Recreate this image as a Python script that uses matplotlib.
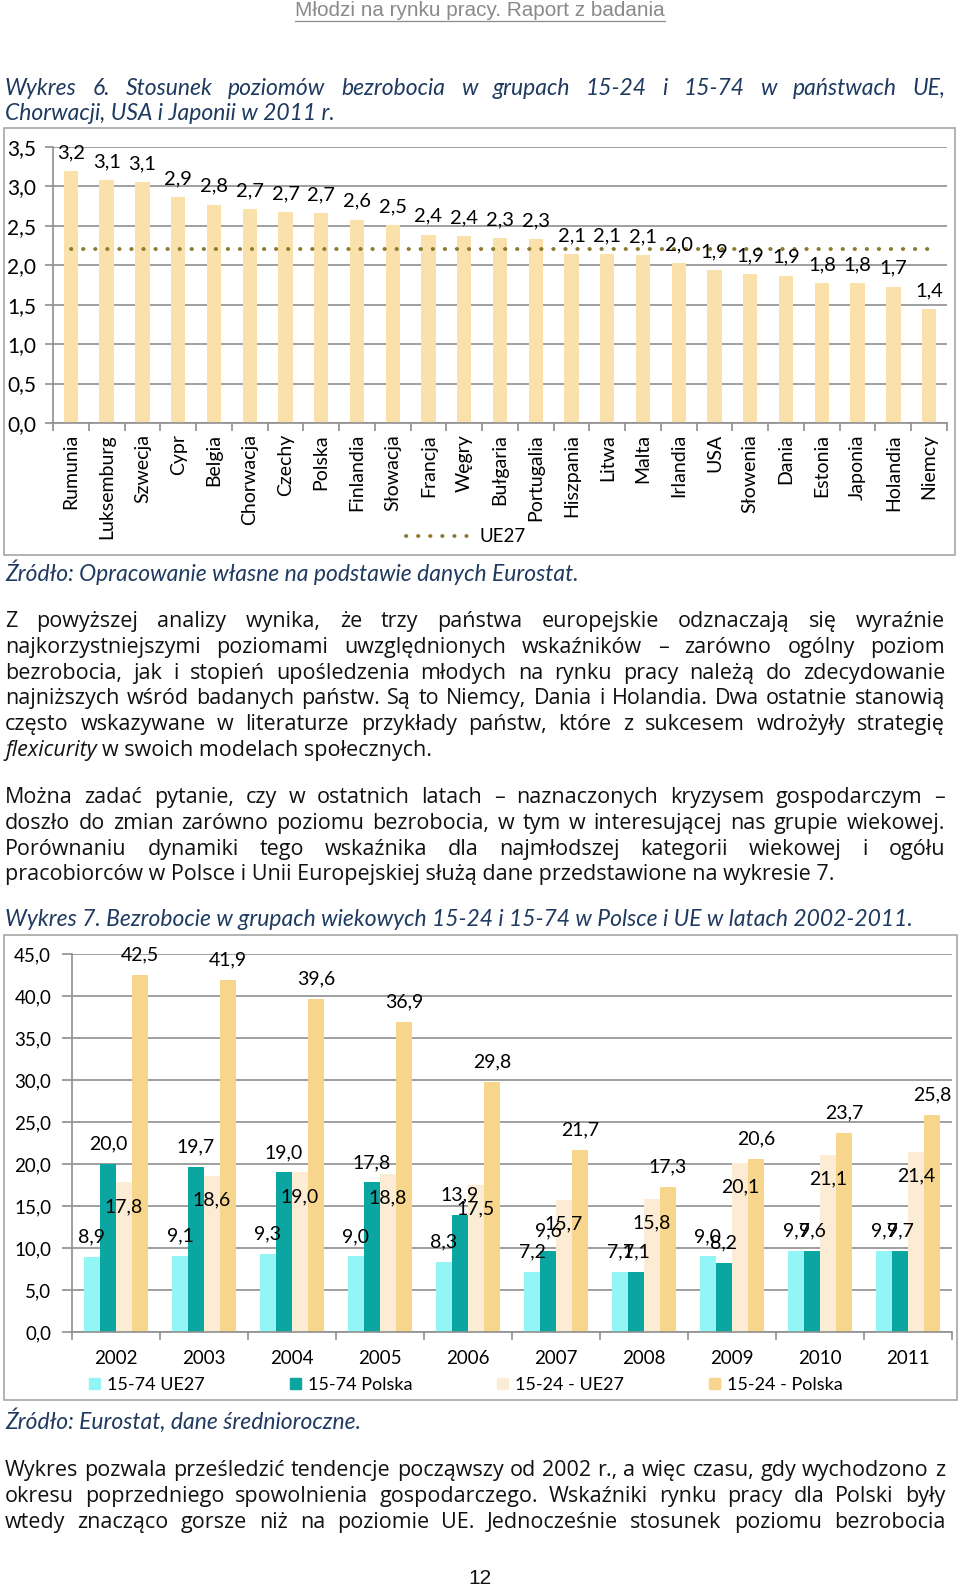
import matplotlib
matplotlib.use('Agg')
import matplotlib.pyplot as plt
from matplotlib.patches import Rectangle, Patch
from matplotlib.lines import Line2D
import numpy as np

W, H = 960, 1588

# --- Wykres 6 data ---
countries = ['Rumunia', 'Luksemburg', 'Szwecja', 'Cypr', 'Belgia', 'Chorwacja',
             'Czechy', 'Polska', 'Finlandia', 'Słowacja', 'Francja', 'Węgry',
             'Bułgaria', 'Portugalia', 'Hiszpania', 'Litwa', 'Malta', 'Irlandia',
             'USA', 'Słowenia', 'Dania', 'Estonia', 'Japonia', 'Holandia', 'Niemcy']
ratio = [3.20, 3.08, 3.06, 2.87, 2.77, 2.71, 2.68, 2.66, 2.58, 2.51, 2.39, 2.37,
         2.34, 2.33, 2.14, 2.14, 2.13, 2.03, 1.94, 1.89, 1.87, 1.78, 1.78, 1.73, 1.44]
ue27_ratio = 2.21

# --- Wykres 7 data ---
years = ['2002', '2003', '2004', '2005', '2006', '2007', '2008', '2009', '2010', '2011']
ue_15_74 = [8.9, 9.1, 9.3, 9.0, 8.3, 7.2, 7.1, 9.0, 9.7, 9.7]
pl_15_74 = [20.0, 19.7, 19.0, 17.8, 13.9, 9.6, 7.1, 8.2, 9.6, 9.7]
ue_15_24 = [17.8, 18.6, 19.0, 18.8, 17.5, 15.7, 15.8, 20.1, 21.1, 21.4]
pl_15_24 = [42.5, 41.9, 39.6, 36.9, 29.8, 21.7, 17.3, 20.6, 23.7, 25.8]
series_names = ['15-74 UE27', '15-74 Polska', '15-24 - UE27', '15-24 - Polska']

plt.rcParams['font.family'] = ['Lato', 'DejaVu Sans']

TITLE_C = '#1f3a60'
GRID_C = '#8f8f8f'
NARROW = ['Liberation Sans Narrow', 'Liberation Sans', 'DejaVu Sans']
BODY = ['Open Sans', 'Lato', 'DejaVu Sans']

fig = plt.figure(figsize=(W / 100, H / 100), dpi=100)
renderer = fig.canvas.get_renderer()


def box(x0, y0, x1, y1):
    return [x0 / W, 1 - y1 / H, (x1 - x0) / W, (y1 - y0) / H]


def fx(x):
    return x / W


def fy(y):
    return 1 - y / H


def fit_size(s, width, size=14, **kw):
    t = fig.text(0, 0, s, fontsize=size, **kw)
    w = t.get_window_extent(renderer).width
    t.remove()
    return size * width / w


def justify(x0, x1, y, s, **kw):
    words = s.split(' ')
    objs = [fig.text(0, fy(y), w, va='baseline', **kw) for w in words]
    widths = [t.get_window_extent(renderer).width for t in objs]
    gap = (x1 - x0 - sum(widths)) / (len(words) - 1)
    x = x0
    for t, w in zip(objs, widths):
        t.set_x(fx(x))
        x += w + gap


def left(x, y, s, **kw):
    return fig.text(fx(x), fy(y), s, va='baseline', **kw)


def fmt(v):
    return f'{v:.1f}'.replace('.', ',')


# font sizes matched to the widths of the page's lines
title_size = fit_size('Wykres 7. Bezrobocie w grupach wiekowych 15-24 i 15-74 w Polsce i UE w latach 2002-2011.',
                      913, style='italic')
body_size = min(fit_size('najniższych wśród badanych państw. Są to Niemcy, Dania i Holandia. Dwa ostatnie stanowią',
                         922, family=BODY), 16)
hdr_size = fit_size('Młodzi na rynku pracy. Raport z badania', 373, family=NARROW)

# header
hdr = fig.text(fx(480), fy(10), 'Młodzi na rynku pracy. Raport z badania', ha='center',
               va='center', fontsize=hdr_size, color='#8a8a8a', family=NARROW)
bb = hdr.get_window_extent(renderer)
fig.add_artist(Line2D([fx(bb.x0), fx(bb.x1)], [fy(21), fy(21)], color='#8a8a8a', lw=0.9))

# title 6
tkw = dict(fontsize=title_size, style='italic', color=TITLE_C)
justify(5, 945, 95, 'Wykres 6. Stosunek poziomów bezrobocia w grupach 15-24 i 15-74 w państwach UE,', **tkw)
left(5, 120, 'Chorwacji, USA i Japonii w 2011 r.', **tkw)

# chart 6 frame
fig.add_artist(Rectangle((fx(4), fy(555)), 951 / W, (555 - 128) / H, transform=fig.transFigure,
                         fill=False, ec='#a6a6a6', lw=1.2))

ax1 = fig.add_axes(box(53, 147, 947, 423))
x = np.arange(len(countries))
ax1.bar(x, ratio, width=0.4, color='#fae0aa', zorder=2)
ax1.plot(x, [ue27_ratio] * len(x), color='#8c7a2e', lw=2.8, linestyle=(0, (0.1, 3.0)),
         dash_capstyle='round', label='UE27', zorder=3)
for xi, v in zip(x, ratio):
    ax1.annotate(fmt(v), (xi, v), xytext=(0, 7), textcoords='offset points',
                 ha='center', va='bottom', fontsize=14.5, zorder=4)
ax1.set_xlim(-0.5, len(countries) - 0.5)
ax1.set_ylim(0, 3.5)
yt = np.arange(0, 3.51, 0.5)
ax1.set_yticks(yt)
ax1.set_yticklabels([fmt(v) for v in yt], fontsize=15)
ax1.set_xticks(np.arange(-0.5, len(countries), 1.0))
ax1.set_xticklabels([])
ax1.set_xticks(x, minor=True)
ax1.set_xticklabels(countries, minor=True, rotation=90, fontsize=14)
ax1.tick_params(axis='x', which='major', length=6, color=GRID_C, width=1.2)
ax1.tick_params(axis='x', which='minor', length=0, pad=8)
ax1.tick_params(axis='y', length=6, color=GRID_C, width=1.2, pad=6)
ax1.grid(axis='y', color=GRID_C, lw=1.2)
ax1.set_axisbelow(True)
for s in ['top', 'right']:
    ax1.spines[s].set_visible(False)
for s in ['left', 'bottom']:
    ax1.spines[s].set_color(GRID_C)
    ax1.spines[s].set_linewidth(1.2)
ax1.legend(loc='center', bbox_to_anchor=(fx(466), fy(537)), bbox_transform=fig.transFigure,
           frameon=False, fontsize=13.5, handlelength=3.4, handletextpad=0.5)

# source 6
left(5, 581, 'Źródło: Opracowanie własne na podstawie danych Eurostat.', **tkw)

# paragraph 1
bkw = dict(fontsize=body_size, color='#111111', family=BODY)
p1 = ['Z powyższej analizy wynika, że trzy państwa europejskie odznaczają się wyraźnie',
      'najkorzystniejszymi poziomami uwzględnionych wskaźników – zarówno ogólny poziom',
      'bezrobocia, jak i stopień upośledzenia młodych na rynku pracy należą do zdecydowanie',
      'najniższych wśród badanych państw. Są to Niemcy, Dania i Holandia. Dwa ostatnie stanowią',
      'często wskazywane w literaturze przykłady państw, które z sukcesem wdrożyły strategię']
for i, s in enumerate(p1):
    justify(5, 945, 627 + i * 25.8, s, **bkw)
it = left(5, 627 + 5 * 25.8, 'flexicurity', style='italic', **bkw)
wb = it.get_window_extent(renderer)
left(wb.x1 + 5, 627 + 5 * 25.8, 'w swoich modelach społecznych.', **bkw)

# paragraph 2
p2 = ['Można zadać pytanie, czy w ostatnich latach – naznaczonych kryzysem gospodarczym –',
      'doszło do zmian zarówno poziomu bezrobocia, w tym w interesującej nas grupie wiekowej.',
      'Porównaniu dynamiki tego wskaźnika dla najmłodszej kategorii wiekowej i ogółu']
for i, s in enumerate(p2):
    justify(5, 945, 803 + i * 25.8, s, **bkw)
left(5, 803 + 3 * 25.8, 'pracobiorców w Polsce i Unii Europejskiej służą dane przedstawione na wykresie 7.', **bkw)

# title 7
left(5, 926, 'Wykres 7. Bezrobocie w grupach wiekowych 15-24 i 15-74 w Polsce i UE w latach 2002-2011.', **tkw)

# chart 7 frame
fig.add_artist(Rectangle((fx(4), fy(1400)), 953 / W, (1400 - 935) / H, transform=fig.transFigure,
                         fill=False, ec='#a6a6a6', lw=1.2))

ax2 = fig.add_axes(box(72, 954, 952, 1332))
xx = np.arange(len(years))
bw = 0.182
colors = ['#93f6f6', '#0ba6a1', '#fcecd4', '#f8d58c']
for i, (vals, col, lab) in enumerate(zip([ue_15_74, pl_15_74, ue_15_24, pl_15_24], colors, series_names)):
    pos = xx + (i - 1.5) * bw
    ax2.bar(pos, vals, width=bw, color=col, label=lab, zorder=2)
    dy = -24 if i == 2 else 20
    for p, v in zip(pos, vals):
        ax2.annotate(fmt(v), (p, v), xytext=(0, dy * 0.72), textcoords='offset points',
                     ha='center', va='center', fontsize=14, zorder=5)
ax2.set_xlim(-0.5, len(years) - 0.5)
ax2.set_ylim(0, 45)
yt2 = np.arange(0, 45.1, 5)
ax2.set_yticks(yt2)
ax2.set_yticklabels([fmt(v) for v in yt2], fontsize=13.5)
ax2.set_xticks(np.arange(-0.5, len(years), 1.0))
ax2.set_xticklabels([])
ax2.set_xticks(xx, minor=True)
ax2.set_xticklabels(years, minor=True, fontsize=13.5)
ax2.tick_params(axis='x', which='major', length=6, color=GRID_C, width=1.2)
ax2.tick_params(axis='x', which='minor', length=0, pad=13)
ax2.tick_params(axis='y', length=7, color=GRID_C, width=1.2, pad=8)
ax2.grid(axis='y', color=GRID_C, lw=1.2)
ax2.set_axisbelow(True)
for s in ['top', 'right']:
    ax2.spines[s].set_visible(False)
for s in ['left', 'bottom']:
    ax2.spines[s].set_color(GRID_C)
    ax2.spines[s].set_linewidth(1.2)
handles = [Patch(color=c, label=n) for c, n in zip(colors, series_names)]
ax2.legend(handles=handles, loc='center', bbox_to_anchor=(fx(466), fy(1385)),
           bbox_transform=fig.transFigure, ncol=4, frameon=False, fontsize=13,
           handlelength=0.6, handleheight=0.6, handletextpad=0.4, columnspacing=4.7)

# source 7
left(5, 1429, 'Źródło: Eurostat, dane średnioroczne.', **tkw)

# paragraph 3
p3 = ['Wykres pozwala prześledzić tendencje począwszy od 2002 r., a więc czasu, gdy wychodzono z',
      'okresu poprzedniego spowolnienia gospodarczego. Wskaźniki rynku pracy dla Polski były',
      'wtedy znacząco gorsze niż na poziomie UE. Jednocześnie stosunek poziomu bezrobocia']
for i, s in enumerate(p3):
    justify(5, 945, 1476 + i * 25.8, s, **bkw)

fig.text(fx(480), fy(1578), '12', ha='center', va='center', fontsize=15, color='#111111', family=NARROW)

fig.savefig('out.png', dpi=100)
